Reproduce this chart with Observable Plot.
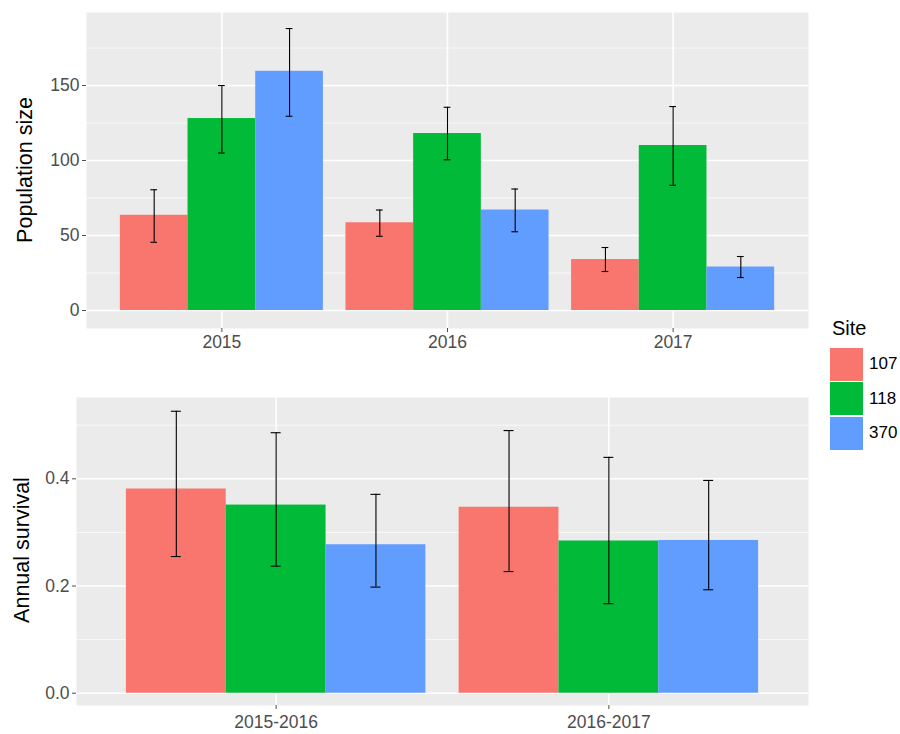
<!DOCTYPE html>
<html><head><meta charset="utf-8">
<script src="https://cdn.jsdelivr.net/npm/d3@7"></script>
<script src="https://cdn.jsdelivr.net/npm/@observablehq/plot@0.6"></script>
<style>
body{margin:0;background:#fff;font-family:"Liberation Sans",Arial,Helvetica,sans-serif;}
#wrap{position:relative;width:900px;height:734px;overflow:hidden;}
#top{position:absolute;left:0;top:0;}
#bot{position:absolute;left:0;top:380px;}
.ytitle{position:absolute;font-size:21.5px;color:#000;white-space:nowrap;transform:translate(-50%,-50%) rotate(-90deg);}
#legend{position:absolute;left:830px;top:317px;}
#legend .lt{font-size:20px;color:#000;margin-left:2px;height:30px;line-height:22px;}
#legend .row{display:flex;align-items:center;height:34.5px;}
#legend .sw{width:33px;height:33px;}
#legend .lab{font-size:17px;color:#000;margin-left:6px;}
</style>
</head><body>
<div id="wrap">
  <div id="top"></div>
  <div id="bot"></div>
  <div class="ytitle" style="left:25px;top:170px;">Population size</div>
  <div class="ytitle" style="left:22px;top:550px;">Annual survival</div>
  <div id="legend"></div>
</div>
<script>
// ---- data ----
const years = ["2015", "2016", "2017"];
const periods = ["2015-2016", "2016-2017"];
const sites = ["107", "118", "370"];
const siteColors = ["#F8766D", "#00BA38", "#619CFF"];

// Population size (per site, per year)
const pop107 = [63.5, 58.5, 34];
const pop107Lo = [45.5, 49.5, 26];
const pop107Hi = [80.5, 67, 42];
const pop118 = [128, 118, 110];
const pop118Lo = [105, 100.5, 83.5];
const pop118Hi = [150, 135.5, 136];
const pop370 = [159.5, 67, 29];
const pop370Lo = [129.5, 52.5, 22];
const pop370Hi = [188, 81, 36];

// Annual survival (per site, per period)
const surv107 = [0.381, 0.347];
const surv107Lo = [0.255, 0.227];
const surv107Hi = [0.526, 0.490];
const surv118 = [0.351, 0.284];
const surv118Lo = [0.237, 0.167];
const surv118Hi = [0.486, 0.440];
const surv370 = [0.277, 0.285];
const surv370Lo = [0.198, 0.193];
const surv370Hi = [0.371, 0.397];

const popTicks = [0, 50, 100, 150];
const popMinor = [25, 75, 125, 175];
const survTicks = [0, 0.2, 0.4];
const survMinor = [0.1, 0.3, 0.5];

// ---- build tables ----
function table(groups, series) {
  const out = [];
  groups.forEach((g, gi) => {
    series.forEach((s, si) => {
      out.push({group: g, gi, site: sites[si], si, v: s.v[gi], lo: s.lo[gi], hi: s.hi[gi]});
    });
  });
  return out;
}
const popData = table(years, [
  {v: pop107, lo: pop107Lo, hi: pop107Hi},
  {v: pop118, lo: pop118Lo, hi: pop118Hi},
  {v: pop370, lo: pop370Lo, hi: pop370Hi}
]);
const survData = table(periods, [
  {v: surv107, lo: surv107Lo, hi: surv107Hi},
  {v: surv118, lo: surv118Lo, hi: surv118Hi},
  {v: surv370, lo: surv370Lo, hi: surv370Hi}
]);

// dodge layout: group width 0.9, each bar 0.3, cap width 0.03
const dodge = 0.9 / sites.length;
const bx1 = d => d.gi - 0.45 + d.si * dodge;
const bx2 = d => d.gi - 0.45 + (d.si + 1) * dodge;
const bc = d => d.gi - 0.45 + (d.si + 0.5) * dodge;
const cap = dodge * 0.1 / 2;

function panel({data, groups, yDomain, ticks, minor, fmt, height, ml, mt, mb, xPad}) {
  const idx = groups.map((_, i) => i);
  return Plot.plot({
    width: 900, height,
    marginLeft: ml, marginRight: 92, marginTop: mt, marginBottom: mb,
    x: {domain: [-0.6, groups.length - 0.4]},
    y: {domain: yDomain},
    color: {domain: sites, range: siteColors},
    style: {fontFamily: '"Liberation Sans", Arial, Helvetica, sans-serif', fontSize: "17.5px", background: "transparent"},
    marks: [
      Plot.frame({fill: "#ebebeb", stroke: "none"}),
      Plot.ruleY(minor, {stroke: "#fff", strokeWidth: 0.7}),
      Plot.ruleY(ticks, {stroke: "#fff", strokeWidth: 1.5}),
      Plot.ruleX(idx, {stroke: "#fff", strokeWidth: 1.5}),
      Plot.rect(data, {x1: bx1, x2: bx2, y1: 0, y2: "v", fill: "site"}),
      Plot.ruleX(data, {x: bc, y1: "lo", y2: "hi", stroke: "#000", strokeWidth: 1.1}),
      Plot.ruleY(data, {y: "lo", x1: d => bc(d) - cap, x2: d => bc(d) + cap, stroke: "#000", strokeWidth: 1.1}),
      Plot.ruleY(data, {y: "hi", x1: d => bc(d) - cap, x2: d => bc(d) + cap, stroke: "#000", strokeWidth: 1.1}),
      Plot.axisY({ticks, tickFormat: fmt, tickSize: 4, tickPadding: 3, label: null, color: "#4d4d4d"}),
      Plot.axisX({ticks: idx, tickFormat: i => groups[i], tickSize: 4, tickPadding: xPad, label: null, color: "#4d4d4d"})
    ]
  });
}

document.getElementById("top").append(panel({
  data: popData, groups: years, yDomain: [-12, 198.7], ticks: popTicks, minor: popMinor,
  fmt: d3.format("d"), height: 360, ml: 86, mt: 12, mb: 32, xPad: 3
}));
document.getElementById("bot").append(panel({
  data: survData, groups: periods, yDomain: [-0.0229, 0.5517], ticks: survTicks, minor: survMinor,
  fmt: d3.format(".1f"), height: 354, ml: 76, mt: 17, mb: 29, xPad: 6
}));

// legend
const lg = document.getElementById("legend");
const t = document.createElement("div"); t.className = "lt"; t.textContent = "Site"; lg.append(t);
sites.forEach((s, i) => {
  const r = document.createElement("div"); r.className = "row";
  const sw = document.createElement("div"); sw.className = "sw"; sw.style.background = siteColors[i];
  const lb = document.createElement("span"); lb.className = "lab"; lb.textContent = s;
  r.append(sw, lb); lg.append(r);
});
</script>
</body></html>
